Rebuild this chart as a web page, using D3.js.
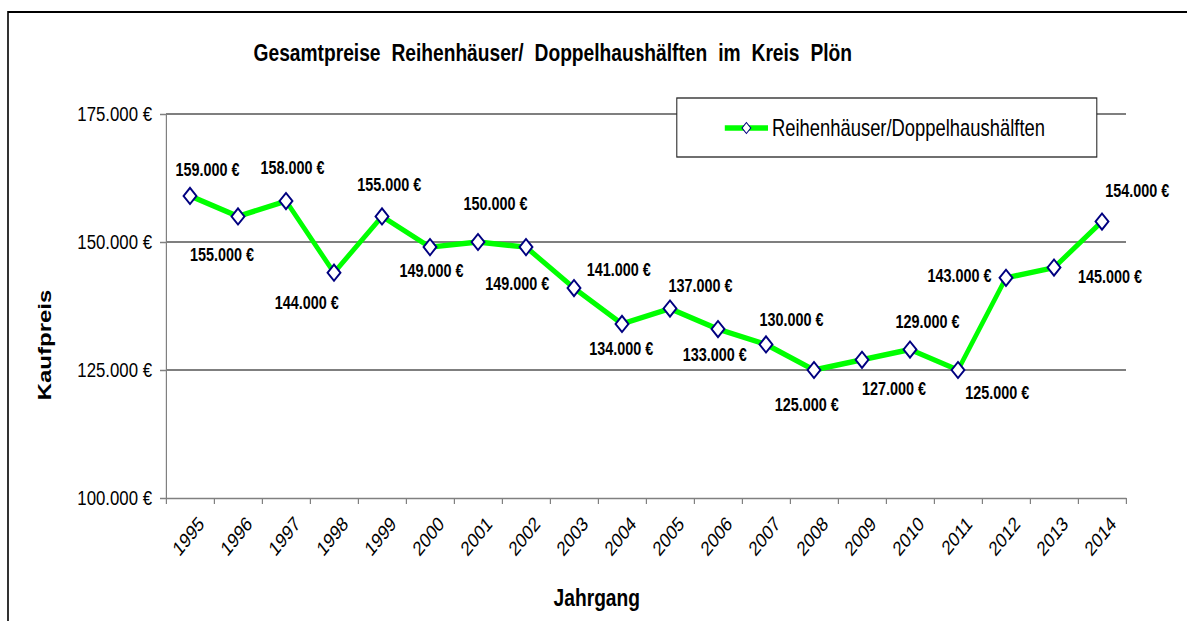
<!DOCTYPE html>
<html lang="de">
<head>
<meta charset="utf-8">
<title>Gesamtpreise Reihenhäuser/ Doppelhaushälften im Kreis Plön</title>
<script src="https://cdn.jsdelivr.net/npm/d3@7"></script>
<style>
  html, body { margin: 0; padding: 0; background: #fff; }
  svg { display: block; }
  text { font-family: "Liberation Sans", Arial, "Helvetica", sans-serif; fill: #000; }
</style>
</head>
<body>
<div id="chart"></div>
<script>
// Jahrgänge und durchschnittliche Kaufpreise (Euro)
const years = ["1995","1996","1997","1998","1999","2000","2001","2002","2003","2004",
               "2005","2006","2007","2008","2009","2010","2011","2012","2013","2014"];
const prices = [159000,155000,158000,144000,155000,149000,150000,149000,141000,134000,
                137000,133000,130000,125000,127000,129000,125000,143000,145000,154000];
const yTicks = [100000,125000,150000,175000];
const seriesName = "Reihenhäuser/Doppelhaushälften";
const titleText = "Gesamtpreise Reihenhäuser/ Doppelhaushälften im Kreis Plön";

// Lage der Wertbeschriftungen relativ zum Datenpunkt [dx, dy]
const labelOffsets = [[22,-26],[-20,38],[8,-34],[-34,30],[9,-32],[2,23],[22,-38],[-11,36],
                      [56,-19],[-1,25],[38,-23],[-4,25],[32,-25],[-9,35],[40,29],[22,-28],
                      [49,23],[-58,-2],[70,9],[44,-31]];

const W = 1187, H = 621;
const SX = 0.8;              // horizontal compression of the drawing
const IW = W / SX;           // internal drawing width

const de = d3.formatLocale({decimal: ",", thousands: ".", grouping: [3], currency: ["", " €"]});
const fmt = v => de.format(",.0f")(v) + " €";

const svg = d3.select("#chart").append("svg")
  .attr("width", W).attr("height", H)
  .attr("viewBox", `0 0 ${IW} ${H}`)
  .attr("preserveAspectRatio", "none");

// outer frame
svg.append("path")
  .attr("d", `M10,${H + 5}V12H${IW + 10}`)
  .attr("fill", "none").attr("stroke", "#000").attr("stroke-width", 2);

const plot = {left: 207.5, right: 1407.5, top: 114, bottom: 498};

const x = d3.scaleBand().domain(years).range([plot.left, plot.right]);
const xi = d3.scaleLinear().domain([0, years.length]).range([plot.left, plot.right]);
const y = d3.scaleLinear().domain([100000, 175000]).range([plot.bottom, plot.top]);

// horizontal grid lines
svg.append("g").selectAll("line")
  .data(yTicks.filter(t => t > 100000))
  .join("line")
  .attr("x1", plot.left).attr("x2", plot.right)
  .attr("y1", d => y(d)).attr("y2", d => y(d))
  .attr("stroke", "#000").attr("stroke-width", 1.2);

// y axis
const yAxis = svg.append("g")
  .attr("transform", `translate(${plot.left},0)`)
  .call(d3.axisLeft(y).tickValues(yTicks).tickFormat(fmt).tickSize(7.5).tickSizeOuter(0).tickPadding(10));
yAxis.select(".domain").attr("stroke", "#808080").attr("stroke-width", 1.5);
yAxis.selectAll(".tick line").attr("stroke", "#808080").attr("stroke-width", 1.5);
yAxis.selectAll(".tick text")
  .style("font-size", "21px").style("font-family", "'Liberation Sans', Arial, sans-serif")
  .attr("fill", "#111");

// x axis with ticks between the categories
const xAxis = svg.append("g")
  .attr("transform", `translate(0,${plot.bottom})`)
  .call(d3.axisBottom(xi).tickValues(d3.range(years.length + 1)).tickFormat("").tickSize(6).tickSizeOuter(0));
xAxis.select(".domain").attr("stroke", "#808080").attr("stroke-width", 1.5);
xAxis.selectAll(".tick line").attr("stroke", "#808080").attr("stroke-width", 1.5);

svg.append("g").selectAll("text")
  .data(years)
  .join("text")
  .attr("transform", d => `translate(${x(d) + x.bandwidth() / 2 + 9},${plot.bottom + 17}) rotate(-45)`)
  .attr("text-anchor", "end")
  .attr("dy", "0.7em")
  .style("font-size", "20.5px")
  .attr("fill", "#111")
  .text(d => d);

// data line
const cx = (d, i) => x(years[i]) + x.bandwidth() / 2;
svg.append("path")
  .datum(prices)
  .attr("fill", "none")
  .attr("stroke", "#00FF00")
  .attr("stroke-width", 5.5)
  .attr("stroke-linejoin", "round")
  .attr("d", d3.line().x(cx).y(d => y(d)));

// markers
const diamond = d3.symbol(d3.symbolSquare, 130);
svg.append("g").selectAll("path")
  .data(prices)
  .join("path")
  .attr("d", diamond)
  .attr("transform", (d, i) => `translate(${cx(d, i)},${y(d)}) rotate(45)`)
  .attr("fill", "#fff").attr("stroke", "#000080").attr("stroke-width", 2.2);

// value labels
svg.append("g").selectAll("text")
  .data(prices)
  .join("text")
  .attr("x", (d, i) => cx(d, i) + labelOffsets[i][0])
  .attr("y", (d, i) => y(d) + labelOffsets[i][1])
  .attr("dy", "0.36em")
  .attr("text-anchor", "middle")
  .style("font-size", "18px").style("font-weight", "bold")
  .text(fmt);

// title
svg.append("text")
  .attr("x", 691).attr("y", 61)
  .attr("text-anchor", "middle")
  .style("font-size", "24px").style("font-weight", "bold")
  .style("word-spacing", "7px")
  .text(titleText);

// axis titles
svg.append("text")
  .attr("x", 746).attr("y", 606)
  .attr("text-anchor", "middle")
  .style("font-size", "24px").style("font-weight", "bold")
  .text("Jahrgang");

svg.append("text")
  .attr("transform", `translate(64,345) rotate(-90)`)
  .attr("text-anchor", "middle")
  .style("font-size", "24px").style("font-weight", "bold")
  .text("Kaufpreis");

// legend
const lg = svg.append("g");
lg.append("rect")
  .attr("x", 846).attr("y", 98).attr("width", 525).attr("height", 59)
  .attr("fill", "#fff").attr("stroke", "#222").attr("stroke-width", 1.3);
lg.append("line")
  .attr("x1", 906).attr("x2", 960).attr("y1", 128).attr("y2", 128)
  .attr("stroke", "#00FF00").attr("stroke-width", 5.5);
lg.append("path")
  .attr("d", d3.symbol(d3.symbolSquare, 60))
  .attr("transform", "translate(933,128) rotate(45)")
  .attr("fill", "#fff").attr("stroke", "#000080").attr("stroke-width", 1.2);
lg.append("text")
  .attr("x", 965).attr("y", 128).attr("dy", "0.36em")
  .style("font-size", "23px")
  .text(seriesName);
</script>
</body>
</html>
